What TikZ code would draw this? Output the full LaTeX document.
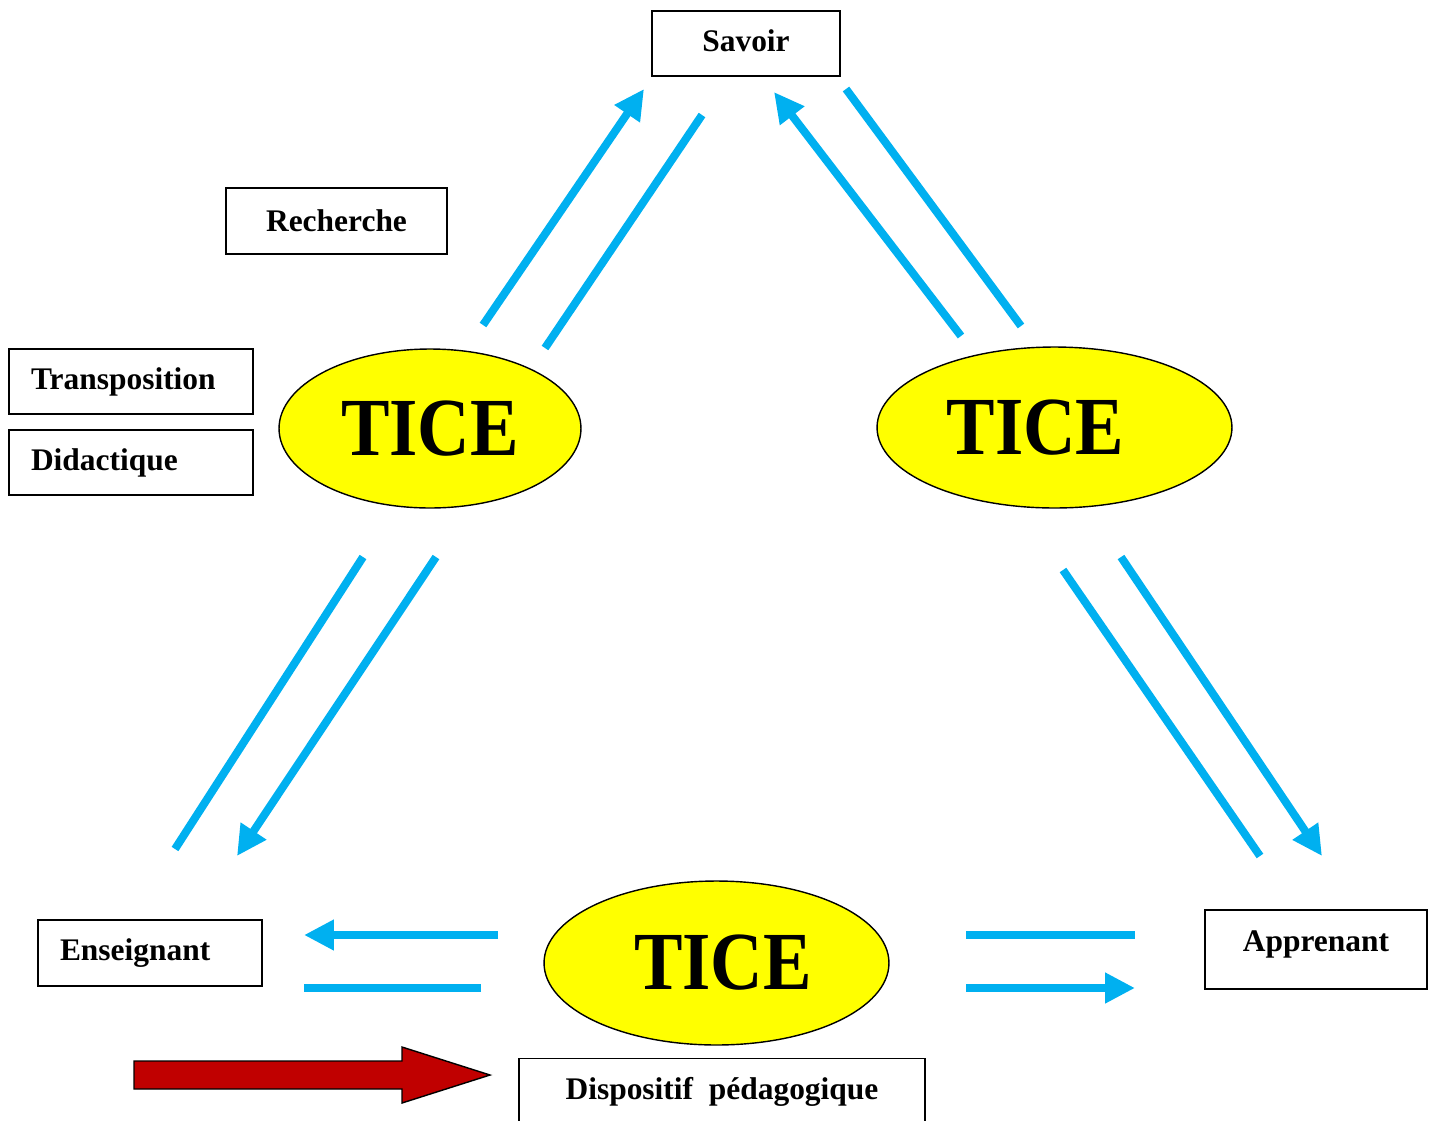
\documentclass[tikz,border=0pt]{standalone}
\usepackage{fontspec}
\setmainfont{Liberation Serif}
\usetikzlibrary{shapes.geometric,arrows.meta}
\definecolor{ticeblue}{HTML}{00B0F0}
\definecolor{ticered}{HTML}{C00000}
\definecolor{ticeyellow}{HTML}{FFFF00}

\begin{document}
\begin{tikzpicture}[x=0.02cm,y=-0.02cm,
	box/.style={draw,line width=0.8pt,inner sep=0pt,font=\fontsize{17.9pt}{20pt}\selectfont\bfseries},
	leftbox/.style={box,align=left,inner xsep=0.44cm},
	tice/.style={ellipse,draw,fill=ticeyellow,line width=0.8pt,inner sep=0pt,font=\fontsize{47pt}{50pt}\selectfont\bfseries},
	link/.style={ticeblue,line width=0.16cm},
	linkhead/.style={link,-{Triangle[length=0.6cm,width=0.58cm]}}]
	\useasboundingbox (0,0) rectangle (1434,1120);

        % the three poles
	\node[box,minimum width=3.76cm,minimum height=1.3cm,text depth=0.12cm] (savoir) at (746,43.5) {Savoir};
	\node[leftbox,text width=3.6cm,minimum height=1.32cm] (enseignant) at (150,953) {Enseignant};
	\node[box,minimum width=4.44cm,minimum height=1.58cm,text depth=0.34cm] (apprenant) at (1316,949.5) {Apprenant};

        % side labels
	\node[box,minimum width=4.42cm,minimum height=1.32cm] (recherche) at (336.5,221) {Recherche};
	\node[leftbox,text width=4cm,minimum height=1.3cm] (transpo) at (131,381.5) {Transposition};
	\node[leftbox,text width=4cm,minimum height=1.3cm] (didact) at (131,462.5) {Didactique};
	\node[box,anchor=north,minimum width=8.12cm,inner ysep=0.3cm,text height=0.52cm,text depth=1cm] (dispositif) at (722,1058) {Dispositif\ \ pédagogique};

        % TICE ellipses
	\node[tice,minimum width=6.04cm,minimum height=3.18cm] (ticeL) at (430,428.5) {\scalebox{0.88}[1]{TICE}};
	\node[tice,minimum width=7.1cm,minimum height=3.22cm] (ticeR) at (1054.5,427.5) {\scalebox{0.88}[1]{TICE}\kern0.76cm};
	\node[tice,minimum width=6.9cm,minimum height=3.28cm] (ticeB) at (716.5,963) {\kern0.26cm\scalebox{0.88}[1]{TICE}};

        % ends of the blue arrows
	\coordinate (a1) at (483,325);   \coordinate (b1) at (644,89);
	\coordinate (a2) at (545,348);   \coordinate (b2) at (702,115);
	\coordinate (a3) at (961,336);   \coordinate (b3) at (774,92);
	\coordinate (a4) at (1021,326);  \coordinate (b4) at (846,89);
	\coordinate (a5) at (363,557);   \coordinate (b5) at (175,849);
	\coordinate (a6) at (436,557);   \coordinate (b6) at (237,856);
	\coordinate (a7) at (1063,570);  \coordinate (b7) at (1260,856);
	\coordinate (a8) at (1121,557);  \coordinate (b8) at (1322,856);
	\coordinate (a9) at (498,935);   \coordinate (b9) at (304,935);
	\coordinate (a10) at (481,988);  \coordinate (b10) at (304,988);
	\coordinate (a11) at (966,935);  \coordinate (b11) at (1135,935);
	\coordinate (a12) at (966,988);  \coordinate (b12) at (1135,988);

        % towards Savoir
	\draw[linkhead] (a1) -- (b1);
	\draw[link] (a2) -- (b2);
	\draw[linkhead] (a3) -- (b3);
	\draw[link] (a4) -- (b4);
        % towards Enseignant and Apprenant
	\draw[link] (a5) -- (b5);
	\draw[linkhead] (a6) -- (b6);
	\draw[link] (a7) -- (b7);
	\draw[linkhead] (a8) -- (b8);
	\draw[linkhead] (a9) -- (b9);
	\draw[link] (a10) -- (b10);
	\draw[link] (a11) -- (b11);
	\draw[linkhead] (a12) -- (b12);

        % red block arrow
	\draw[fill=ticered,line width=0.8pt] (134,1061) -- (402,1061) -- (402,1047) -- (490,1075)
		-- (402,1103) -- (402,1089) -- (134,1089) -- cycle;
\end{tikzpicture}
\end{document}
